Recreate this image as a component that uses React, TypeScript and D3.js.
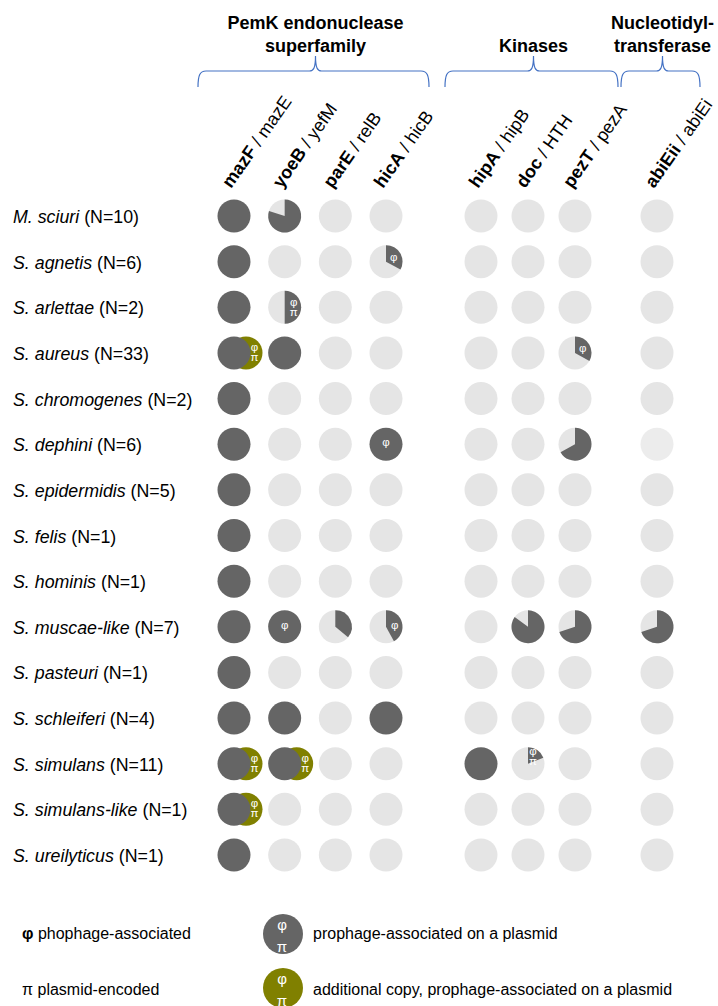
import * as React from 'react';
import * as d3 from 'd3';

// species (rows)
const species = ['M. sciuri', 'S. agnetis', 'S. arlettae', 'S. aureus', 'S. chromogenes', 'S. dephini',
    'S. epidermidis', 'S. felis', 'S. hominis', 'S. muscae-like', 'S. pasteuri', 'S. schleiferi',
    'S. simulans', 'S. simulans-like', 'S. ureilyticus'];
const counts = [10, 6, 2, 33, 2, 6, 5, 1, 1, 7, 1, 4, 11, 1, 1];

// toxin / antitoxin pairs (columns)
const toxins = ['mazF', 'yoeB', 'parE', 'hicA', 'hipA', 'doc', 'pezT', 'abiEii'];
const antitoxins = ['mazE', 'yefM', 'relB', 'hicB', 'hipB', 'HTH', 'pezA', 'abiEi'];
const familyOf = [0, 0, 0, 0, 1, 1, 1, 2];
const familyNames = [['PemK endonuclease', 'superfamily'], ['Kinases'], ['Nucleotidyl-', 'transferase']];

// fraction of genomes carrying the pair
const share = [
    [1, 0.8, 0, 0, 0, 0, 0, 0],
    [1, 0, 0, 0.33, 0, 0, 0, 0],
    [1, 0.5, 0, 0, 0, 0, 0, 0],
    [1, 1, 0, 0, 0, 0, 0.33, 0],
    [1, 0, 0, 0, 0, 0, 0, 0],
    [1, 0, 0, 1, 0, 0, 0.67, 0],
    [1, 0, 0, 0, 0, 0, 0, 0],
    [1, 0, 0, 0, 0, 0, 0, 0],
    [1, 0, 0, 0, 0, 0, 0, 0],
    [1, 1, 0.36, 0.42, 0, 0.85, 0.7, 0.7],
    [1, 0, 0, 0, 0, 0, 0, 0],
    [1, 1, 0, 1, 0, 0, 0, 0],
    [1, 1, 0, 0, 1, 0.19, 0, 0],
    [1, 0, 0, 0, 0, 0, 0, 0],
    [1, 0, 0, 0, 0, 0, 0, 0],
];

// φ = prophage-associated, π = plasmid-encoded
const marks = [
    ['', '', '', '', '', '', '', ''],
    ['', '', '', 'φ', '', '', '', ''],
    ['', 'φπ', '', '', '', '', '', ''],
    ['', '', '', '', '', '', 'φ', ''],
    ['', '', '', '', '', '', '', ''],
    ['', '', '', 'φ', '', '', '', ''],
    ['', '', '', '', '', '', '', ''],
    ['', '', '', '', '', '', '', ''],
    ['', '', '', '', '', '', '', ''],
    ['', 'φ', '', 'φ', '', '', '', ''],
    ['', '', '', '', '', '', '', ''],
    ['', '', '', '', '', '', '', ''],
    ['', '', '', '', '', 'φπ', '', ''],
    ['', '', '', '', '', '', '', ''],
    ['', '', '', '', '', '', '', ''],
];

// additional copies, prophage-associated on a plasmid: [row, col]
const extraCopies = [[3, 0], [12, 0], [12, 1], [13, 0]];
const faintCells = [[5, 7]];

const DARK = '#656565';
const LIGHT = '#e5e5e5';
const FAINT = '#ececec';
const OLIVE = '#808000';
const BLUE = '#4472c4';
const FONT = '"Liberation Sans", Arial, sans-serif';
const R = 16.5;

function Marks(props: { x: number, y: number, text: string, size?: number, gap?: number }) {
    const size = props.size || 11.5;
    const gap = props.gap || 5;
    const chars = Array.from(props.text);
    return (
        <g fill="#ffffff" fontFamily={FONT} fontSize={size} textAnchor="middle">
            {chars.map((c, i) => (
                <text key={i} x={props.x} y={props.y + (chars.length === 1 ? 0 : (i === 0 ? -gap : gap))}
                    dominantBaseline="central">{c}</text>
            ))}
        </g>
    );
}

export default function App() {
    const width = 718, height = 1006;

    const yScale = d3.scalePoint<string>().domain(species).range([216, 855]);

    // one point scale per family, the columns sit inside it
    const familyRanges = [[234, 386], [481, 575], [657, 657]];
    const colX = toxins.map((t, i) => {
        const f = familyOf[i];
        const members = toxins.filter((_, j) => familyOf[j] === f);
        const s = d3.scalePoint<string>().domain(members).range(familyRanges[f] as [number, number]);
        return s(t) as number;
    });

    const arc = d3.arc<{ f: number }>()
        .innerRadius(0)
        .outerRadius(R)
        .startAngle(0)
        .endAngle((d) => d.f * 2 * Math.PI);

    const isIn = (list: number[][], r: number, c: number) => list.some((p) => p[0] === r && p[1] === c);

    const braces = familyNames.map((lines, f) => {
        const xs = colX.filter((_, i) => familyOf[i] === f);
        const x0 = (d3.min(xs) as number) - 36;
        const x1 = (d3.max(xs) as number) + 43;
        const xm = (x0 + x1) / 2 + 2;
        const yb = 87, yh = 71, yt = 56;
        const d = `M${x0},${yb} C${x0},${yh + 4} ${x0 + 2},${yh} ${x0 + 8},${yh}`
            + ` L${xm - 6},${yh} C${xm - 2},${yh} ${xm},${yh - 3} ${xm},${yt}`
            + ` C${xm},${yh - 3} ${xm + 2},${yh} ${xm + 6},${yh}`
            + ` L${x1 - 8},${yh} C${x1 - 2},${yh} ${x1},${yh + 4} ${x1},${yb}`;
        return { d, xm, lines };
    });

    return (
        <svg width={width} height={height} style={{ position: 'absolute', left: 0, top: 0 }}
            fontFamily={FONT}>
            {/* family headers */}
            {braces.map((b, i) => (
                <g key={i}>
                    <path d={b.d} fill="none" stroke={BLUE} strokeWidth={1.2} />
                    {b.lines.map((l, j) => (
                        <text key={j} x={b.xm} y={b.lines.length === 1 ? 52 : 29 + j * 23}
                            textAnchor="middle" fontSize={18} fontWeight="bold">{l}</text>
                    ))}
                </g>
            ))}

            {/* column labels */}
            {toxins.map((t, i) => (
                <text key={t} transform={`translate(${colX[i] - 3},189) rotate(-55)`} fontSize={18}>
                    <tspan fontWeight="bold">{t}</tspan>
                    <tspan>{' / ' + antitoxins[i]}</tspan>
                </text>
            ))}

            {/* row labels */}
            {species.map((s, i) => (
                <text key={s} x={13} y={(yScale(s) as number) + 7} fontSize={17.8}>
                    <tspan fontStyle="italic">{s}</tspan>
                    <tspan>{` (N=${counts[i]})`}</tspan>
                </text>
            ))}

            {/* cells */}
            {species.map((s, r) => {
                const cy = yScale(s) as number;
                return (
                    <g key={s}>
                        {toxins.map((t, c) => {
                            const cx = colX[c];
                            const f = share[r][c];
                            const m = marks[r][c];
                            const extra = isIn(extraCopies, r, c);
                            let lx = cx, ly = cy - 2;
                            if (f > 0 && f < 1) {
                                const a = f * Math.PI;
                                lx = cx + 9 * Math.sin(a);
                                ly = cy - 9 * Math.cos(a);
                            }
                            return (
                                <g key={t}>
                                    {extra && <circle cx={cx + 12} cy={cy} r={R} fill={OLIVE} />}
                                    {extra && <Marks x={cx + 20.5} y={cy - 1} text="φπ" />}
                                    {f < 1 && <circle cx={cx} cy={cy} r={R}
                                        fill={isIn(faintCells, r, c) ? FAINT : LIGHT} />}
                                    {f >= 1 && <circle cx={cx} cy={cy} r={R} fill={DARK} />}
                                    {f > 0 && f < 1 && <path transform={`translate(${cx},${cy})`}
                                        d={arc({ f }) as string} fill={DARK} />}
                                    {m && <Marks x={lx} y={ly} text={m} />}
                                </g>
                            );
                        })}
                    </g>
                );
            })}

            {/* legend */}
            <text x={22} y={939} fontSize={16}>
                <tspan fontWeight="bold">φ</tspan>
                <tspan>{' phophage-associated'}</tspan>
            </text>
            <text x={22} y={995} fontSize={16}>π plasmid-encoded</text>
            <circle cx={283} cy={934} r={20} fill={DARK} />
            <Marks x={282} y={935} text="φπ" size={15} gap={11} />
            <text x={313} y={939} fontSize={16}>prophage-associated on a plasmid</text>
            <circle cx={283} cy={988} r={20} fill={OLIVE} />
            <Marks x={282} y={989} text="φπ" size={15} gap={11} />
            <text x={313} y={995} fontSize={16}>additional copy, prophage-associated on a plasmid</text>
        </svg>
    );
}
